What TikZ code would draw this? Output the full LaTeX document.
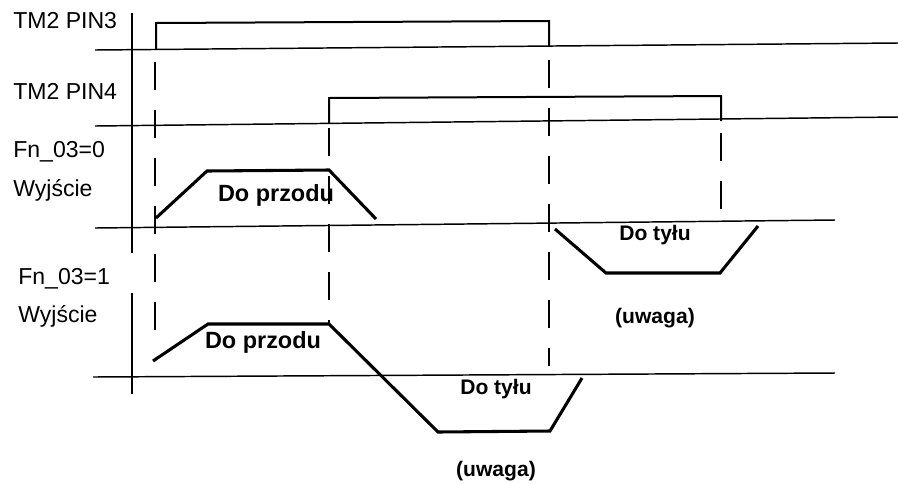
\documentclass[tikz,border=0pt]{standalone}
\usepackage{fontspec}
\setmainfont{Liberation Sans}

\begin{document}
\begin{tikzpicture}[
      x=0.75pt, y=-0.75pt,
      lbl/.style={anchor=base west, inner sep=0pt, font=\fontsize{17.3}{19}\selectfont},
      tag/.style={anchor=base, inner sep=0pt, font=\fontsize{15.8}{17}\selectfont\bfseries},
      bigtag/.style={tag, font=\fontsize{17.6}{19}\selectfont\bfseries},
      vaxis/.style={line width=1.4pt},
      hline/.style={line width=1.1pt},
      pulse/.style={line width=1.5pt},
      ramp/.style={line width=2.3pt, line join=miter},
      guide/.style={line width=1.3pt, dash pattern=on 21pt off 15pt}
    ]
    \useasboundingbox (0,0) rectangle (898,483);

    % signal names
    \node[lbl] (pin3) at (13,28) {TM2 PIN3};
    \node[lbl] (pin4) at (13,99) {TM2 PIN4};
    \node[lbl] (fn0) at (13,157) {Fn\_03=0};
    \node[lbl] (out0) at (13,196) {Wyjście};
    \node[lbl] (fn1) at (18,284) {Fn\_03=1};
    \node[lbl] (out1) at (18,322) {Wyjście};

    % axes
    \draw[vaxis] (132,13) -- (132,253);
    \draw[vaxis] (132,293) -- (132,394);
    \draw[hline] (95,50) -- (898,43);
    \draw[hline] (95,126) -- (898,117);
    \draw[hline] (95,228) -- (835,220);
    \draw[hline] (93,377) -- (835,373);

    % inputs
    \draw[pulse] (156,49) -- (156,23) -- (549,21) -- (549,46);
    \draw[pulse] (329,123) -- (329,98) -- (721,96) -- (721,121);

    % time marks
    \draw[guide] (155,62) -- (155,345);
    \draw[guide] (329,128) -- (329,323);
    \draw[guide] (549,60) -- (549,366);
    \draw[guide] (721,133) -- (721,215);

    % outputs
    \draw[ramp] (156,218) -- (207,171) -- (329,170) -- (376,219);
    \draw[ramp] (555,229) -- (606,273) -- (720,273) -- (758,226);
    \draw[ramp] (153,361) -- (208,324) -- (329,324) -- (438,432) -- (550,431) -- (582,378);

    \node[bigtag] (fwd0) at (276,201) {Do przodu};
    \node[tag] (back0) at (655,240) {Do tyłu};
    \node[tag] (note0) at (655,323) {(uwaga)};
    \node[bigtag] (fwd1) at (263,348) {Do przodu};
    \node[tag] (back1) at (496,394) {Do tyłu};
    \node[tag] (note1) at (496,476) {(uwaga)};
  \end{tikzpicture}
\end{document}
